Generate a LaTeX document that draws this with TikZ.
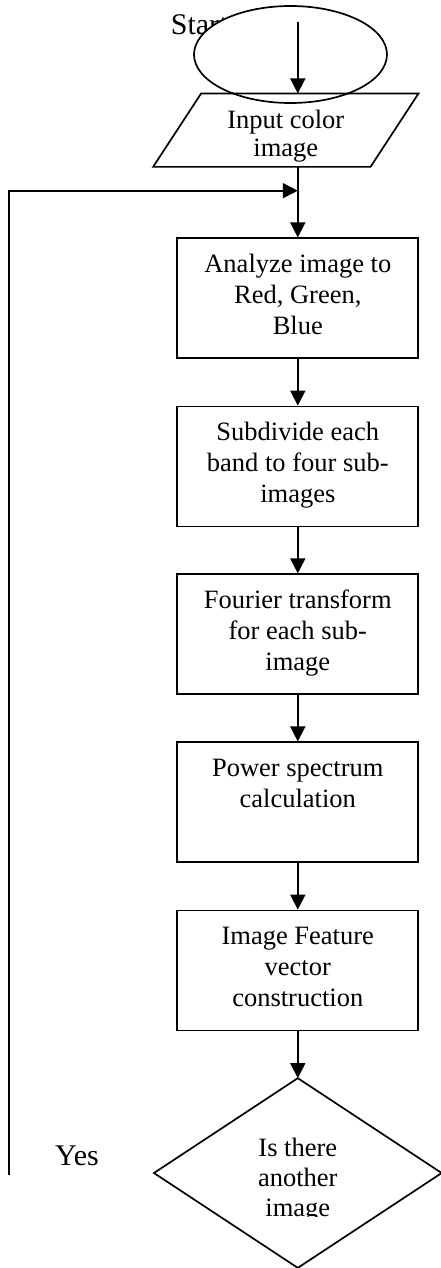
\documentclass[tikz,border=0pt]{standalone}
\usepackage{fontspec}
\setmainfont{Liberation Serif}
\usetikzlibrary{shapes.geometric,arrows.meta}

% text block for a process box: fixed size, lines hang from the top
\newcommand\procbody[1]{\parbox[c][120pt][t]{241pt}{\centering
  \fontsize{26.5}{31}\selectfont\rule{0pt}{34pt}#1}}

\begin{document}
\begin{tikzpicture}[x=1pt,y=-1pt,
  line width=1.7pt,
  arr/.style={-{Triangle[length=15pt,width=15pt]}},
  procbox/.style={draw, inner sep=0pt, minimum width=241pt, minimum height=120pt},
  bigword/.style={inner sep=0pt, anchor=base west, font=\fontsize{30}{36}\selectfont}]

\useasboundingbox (0,0) rectangle (441,1268);

% terminal: label first, the white ellipse lies over it
\node[bigword] (starttxt) at (170,35) {Start};
\node[draw, ellipse, fill=white, inner sep=0pt,
      minimum width=193pt, minimum height=97pt] (start) at (290.5,54.5) {};
\coordinate (s0) at (297.8,21.7);

% input parallelogram (outline drawn from the node's corners)
\node[inner sep=0pt] (inp) at (285.8,130.2)
  {\parbox[c][71.7pt][t]{263.7pt}{\centering\fontsize{26.5}{28.4}\selectfont
   \rule{0pt}{34pt}Input color\\image}};
\draw ([xshift=48pt]inp.north west) -- (inp.north east)
   -- ([xshift=-48pt]inp.south east) -- (inp.south west) -- cycle;

% process boxes
\node[procbox] (b1) at (297.8,298.3) {\procbody{Analyze image to\\Red, Green,\\Blue}};
\node[procbox] (b2) at (297.8,466.5) {\procbody{Subdivide each\\band to four sub-\\images}};
\node[procbox] (b3) at (297.8,634.2) {\procbody{Fourier transform\\for each sub-\\image}};
\node[procbox] (b4) at (297.8,802.3) {\procbody{Power spectrum\\calculation}};
\node[procbox] (b5) at (297.8,970.5) {\procbody{Image Feature\\vector\\construction}};

% decision diamond
\node[inner sep=0pt, minimum width=286pt, minimum height=188pt] (dec) at (297.8,1173) {};
\draw (dec.north) -- (dec.east) -- (dec.south) -- (dec.west) -- cycle;
\begin{scope}
  \clip (150,1075) rectangle (441,1216.8);
  \node[inner sep=0pt, anchor=base] (dectxt) at (297.8,1156.7)
    {\parbox[t]{200pt}{\centering\fontsize{26.5}{30}\selectfont Is there\\another\\image}};
\end{scope}
\node[bigword] (yes) at (54.3,1165.7) {Yes};

% flow connectors
\draw[arr] (s0) -- (s0 |- inp.north);
\draw[arr] (b1.north |- inp.south) -- (b1.north);
\draw[arr] (b1.south) -- (b2.north);
\draw[arr] (b2.south) -- (b3.north);
\draw[arr] (b3.south) -- (b4.north);
\draw[arr] (b4.south) -- (b5.north);
\draw[arr] (b5.south) -- (dec.north);

% return path for the next image
\coordinate (loopend) at (9.3,1175);
\coordinate (join) at (297.8,190.7);
\draw[arr] (loopend) |- (join);

\end{tikzpicture}
\end{document}
